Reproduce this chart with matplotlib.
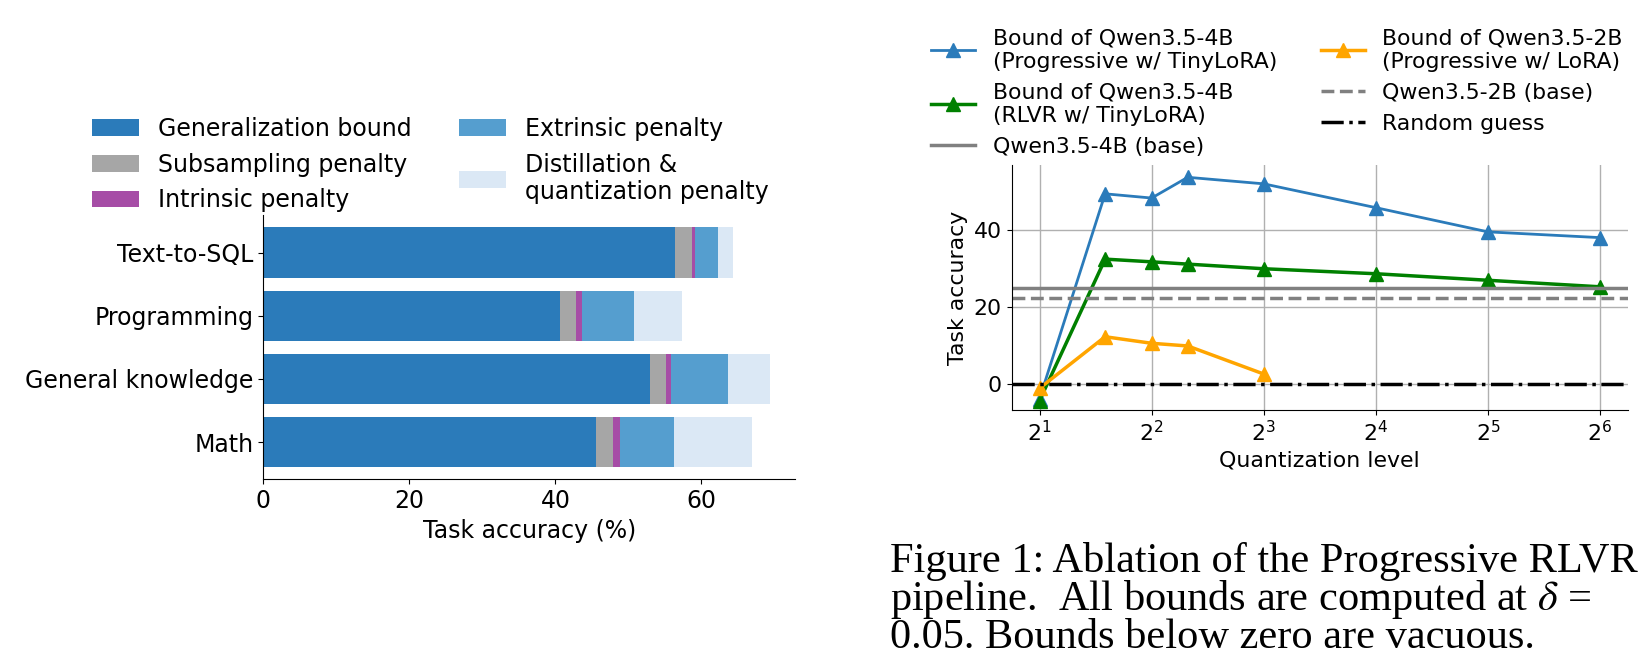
import matplotlib.pyplot as plt
import numpy as np

# left panel: stacked penalty breakdown (values are segment widths)
tasks = ["Text-to-SQL", "Programming", "General knowledge", "Math"]
gen_bound = [56.4, 40.6, 52.9, 45.6]
subsampling = [2.3, 2.2, 2.2, 2.3]
intrinsic = [0.4, 0.8, 0.8, 0.9]
extrinsic = [3.2, 7.2, 7.7, 7.5]
distill_quant = [2.1, 6.6, 5.8, 10.7]

seg_names = ["Generalization bound", "Subsampling penalty", "Intrinsic penalty",
             "Extrinsic penalty", "Distillation &\nquantization penalty"]
seg_colors = ["#2b7bba", "#a6a6a6", "#a64da6", "#559ecf", "#dbe8f5"]

# right panel: accuracy bound vs quantization level
quant_levels = [2, 3, 4, 5, 8, 16, 32, 64]
prog_tiny_4b = [-3.8, 49.5, 48.4, 53.8, 52.1, 45.9, 39.6, 38.1]
rlvr_tiny_4b = [-4.3, 32.5, 31.8, 31.2, 30.0, 28.7, 27.0, 25.3]
quant_levels_2b = [2, 3, 4, 5, 8]
prog_lora_2b = [-1.1, 12.3, 10.6, 9.9, 2.6]
base_4b = 24.9
base_2b = 22.3
random_guess = 0.0

fig = plt.figure(figsize=(16.51, 6.6), dpi=100)

# ---- left chart ----
ax0 = fig.add_axes([0.1596, 0.2738, 0.3221, 0.3997])
segments = [gen_bound, subsampling, intrinsic, extrinsic, distill_quant]
ypos = np.arange(len(tasks))
left = np.zeros(len(tasks))
for vals, name, col in zip(segments, seg_names, seg_colors):
    ax0.barh(ypos, vals, left=left, height=0.8, color=col, label=name)
    left = left + np.array(vals)
ax0.set_yticks(ypos)
ax0.set_yticklabels(tasks, fontsize=17)
ax0.invert_yaxis()
ax0.set_xticks([0, 20, 40, 60])
ax0.tick_params(axis="x", labelsize=17)
ax0.set_xlabel("Task accuracy (%)", fontsize=17)
ax0.spines["top"].set_visible(False)
ax0.spines["right"].set_visible(False)
fig.legend(*ax0.get_legend_handles_labels(), loc="upper left",
           bbox_to_anchor=(0.0557, 0.823), ncol=2, frameon=False,
           fontsize=17, borderpad=0, borderaxespad=0)

# ---- right chart ----
ax1 = fig.add_axes([0.6127, 0.3783, 0.3733, 0.3717])
ax1.set_xscale("log", base=2)
ax1.grid(True, color="#b0b0b0", lw=1)
ax1.set_axisbelow(True)
l1, = ax1.plot(quant_levels, prog_tiny_4b, color="#2b7bba", marker="^", ms=10, lw=2,
               label="Bound of Qwen3.5-4B\n(Progressive w/ TinyLoRA)")
l2, = ax1.plot(quant_levels, rlvr_tiny_4b, color="green", marker="^", ms=10, lw=2.5,
               label="Bound of Qwen3.5-4B\n(RLVR w/ TinyLoRA)")
l3 = ax1.axhline(base_4b, color="gray", lw=2.5, label="Qwen3.5-4B (base)")
l4, = ax1.plot(quant_levels_2b, prog_lora_2b, color="orange", marker="^", ms=10, lw=2.5,
               label="Bound of Qwen3.5-2B\n(Progressive w/ LoRA)")
l5 = ax1.axhline(base_2b, color="gray", lw=2.5, ls="--", label="Qwen3.5-2B (base)")
l6 = ax1.axhline(random_guess, color="black", lw=2.5, ls="-.", label="Random guess")
ax1.set_xlim(2 ** 0.75, 2 ** 6.25)
ax1.set_ylim(-6.85, 57.0)
ax1.set_yticks([0, 20, 40])
ax1.tick_params(labelsize=15.8)
ax1.set_xlabel("Quantization level", fontsize=15.8)
ax1.set_ylabel("Task accuracy", fontsize=15.8)
ax1.spines["top"].set_visible(False)
ax1.spines["right"].set_visible(False)
fig.legend(handles=[l1, l2, l3, l4, l5, l6], loc="upper left",
           bbox_to_anchor=(0.564, 0.957), ncol=2, frameon=False,
           fontsize=15.8, borderpad=0, borderaxespad=0)

# caption text from the page
fig.text(0.539, 0.004,
         "Figure 1: Ablation of the Progressive RLVR\n"
         "pipeline.  All bounds are computed at $\\delta$ =\n"
         "0.05. Bounds below zero are vacuous.",
         family="Liberation Serif", math_fontfamily="stix", fontsize=30.5,
         va="bottom", ha="left", linespacing=0.92)

fig.savefig("out.png", dpi=100)
